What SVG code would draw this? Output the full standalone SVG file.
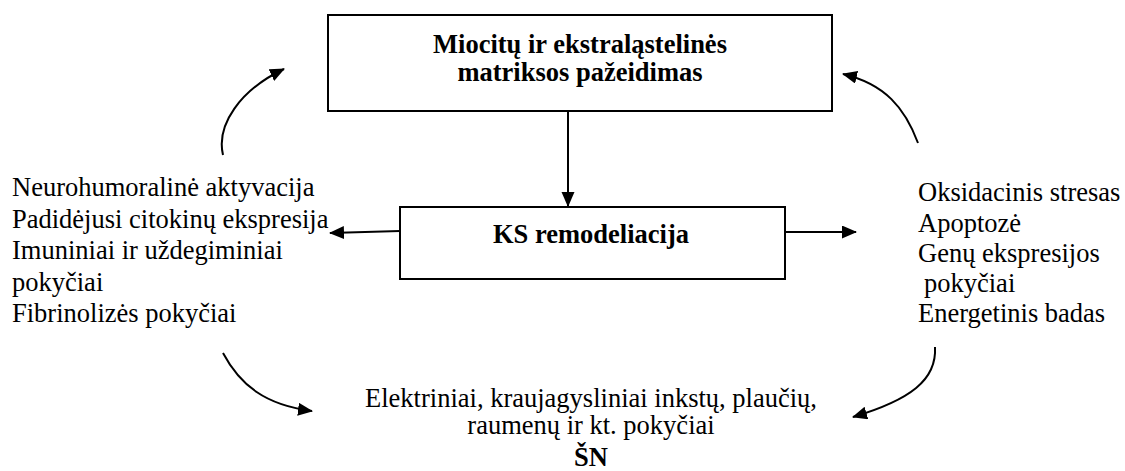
<svg xmlns="http://www.w3.org/2000/svg" width="1125" height="471" viewBox="0 0 1125 471">
<defs>
<style>
text{font-family:"Liberation Serif","Times New Roman",serif;font-size:26.5px;fill:#000}
.b{font-weight:bold}
.box{fill:#fff;stroke:#000;stroke-width:2}
.c{fill:none;stroke:#000;stroke-width:2}
</style>
<marker id="ah" markerUnits="userSpaceOnUse" markerWidth="16" markerHeight="14" refX="14" refY="6.5" orient="auto">
<path d="M0,0 L15,6.5 L0,13 z" fill="#000"/>
</marker>
</defs>
<rect width="1125" height="471" fill="#fff"/>
<g id="connectors">
<line class="c" x1="568" y1="111" x2="568" y2="206" marker-end="url(#ah)"/>
<line class="c" x1="400" y1="231" x2="330" y2="233" marker-end="url(#ah)"/>
<line class="c" x1="785" y1="232" x2="856" y2="232" marker-end="url(#ah)"/>
<path class="c" d="M223,155 C216,125 240,90 284,69" marker-end="url(#ah)"/>
<path class="c" d="M918,143 C905,108 885,84 843,74" marker-end="url(#ah)"/>
<path class="c" d="M223,353 C240,385 265,405 312,411" marker-end="url(#ah)"/>
<path class="c" d="M935,347 C937,380 910,400 853,417" marker-end="url(#ah)"/>
</g>
<g id="node-top">
<rect class="box" x="328" y="15" width="504" height="96"/>
<text class="b" x="580" y="53" text-anchor="middle">Miocitų ir ekstraląstelinės</text>
<text class="b" x="580" y="81" text-anchor="middle">matriksos pažeidimas</text>
</g>
<g id="node-ks">
<rect class="box" x="400" y="207" width="385" height="72"/>
<text class="b" x="591" y="243" text-anchor="middle">KS remodeliacija</text>
</g>
<g id="node-left">
<text x="12" y="196">Neurohumoralinė aktyvacija</text>
<text x="12" y="227.5">Padidėjusi citokinų ekspresija</text>
<text x="12" y="259">Imuniniai ir uždegiminiai</text>
<text x="12" y="290.5">pokyčiai</text>
<text x="12" y="322">Fibrinolizės pokyčiai</text>
</g>
<g id="node-right">
<text x="918" y="201">Oksidacinis stresas</text>
<text x="918" y="231.5">Apoptozė</text>
<text x="918" y="262">Genų ekspresijos</text>
<text x="924" y="292">pokyčiai</text>
<text x="918" y="322">Energetinis badas</text>
</g>
<g id="node-bottom">
<text x="591" y="407" text-anchor="middle">Elektriniai, kraujagysliniai inkstų, plaučių,</text>
<text x="591" y="434" text-anchor="middle">raumenų ir kt. pokyčiai</text>
<text class="b" x="591" y="466" text-anchor="middle">ŠN</text>
</g>
</svg>
